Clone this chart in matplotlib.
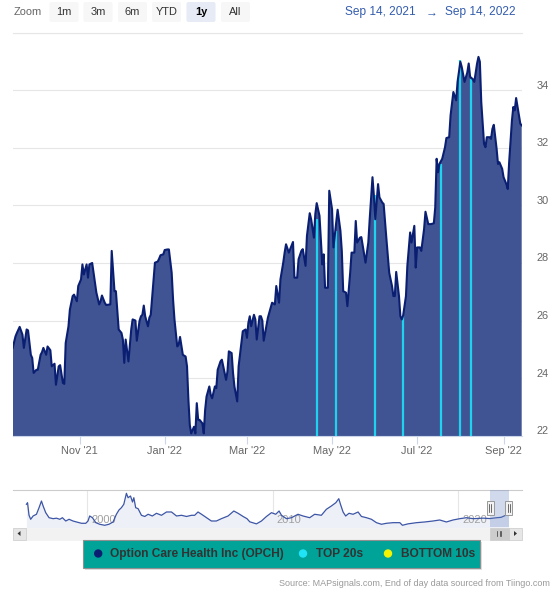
import matplotlib
matplotlib.use("Agg")
import matplotlib.pyplot as plt
import matplotlib.dates as mdates
import matplotlib.transforms as mtransforms
from matplotlib.patches import Rectangle, FancyBboxPatch, Circle, Polygon
import pandas as pd

plt.rcParams['font.family'] = ['Liberation Sans', 'DejaVu Sans']

# OPCH close, Sep 14 2021 -> Sep 14 2022
dates = [
    '2021-09-14', '2021-09-16', '2021-09-17', '2021-09-19', '2021-09-21', '2021-09-22',
    '2021-09-24', '2021-09-25', '2021-09-27', '2021-09-28', '2021-09-29',
    '2021-10-01', '2021-10-02', '2021-10-04', '2021-10-05', '2021-10-06', '2021-10-08',
    '2021-10-09', '2021-10-11', '2021-10-12', '2021-10-14', '2021-10-15', '2021-10-17',
    '2021-10-18', '2021-10-20', '2021-10-21', '2021-10-22', '2021-10-24', '2021-10-25',
    '2021-10-27', '2021-10-28', '2021-10-30', '2021-10-31',
    '2021-11-02', '2021-11-03', '2021-11-04', '2021-11-06', '2021-11-07', '2021-11-08',
    '2021-11-10', '2021-11-12', '2021-11-13', '2021-11-15', '2021-11-16', '2021-11-17',
    '2021-11-19', '2021-11-20', '2021-11-23', '2021-11-24', '2021-11-26', '2021-11-27',
    '2021-11-29',
    '2021-12-01', '2021-12-02', '2021-12-03', '2021-12-04', '2021-12-06', '2021-12-08',
    '2021-12-09', '2021-12-11', '2021-12-12', '2021-12-14', '2021-12-15', '2021-12-16',
    '2021-12-17', '2021-12-18', '2021-12-20', '2021-12-21', '2021-12-22', '2021-12-24',
    '2021-12-25', '2021-12-27', '2021-12-28', '2021-12-29', '2021-12-31',
    '2022-01-01', '2022-01-03', '2022-01-04', '2022-01-06', '2022-01-07', '2022-01-08',
    '2022-01-10', '2022-01-11', '2022-01-12', '2022-01-14', '2022-01-16', '2022-01-17',
    '2022-01-18', '2022-01-19', '2022-01-20', '2022-01-22', '2022-01-23', '2022-01-24',
    '2022-01-25', '2022-01-26', '2022-01-28', '2022-01-29', '2022-01-30', '2022-01-31',
    '2022-02-02', '2022-02-03', '2022-02-04', '2022-02-06', '2022-02-07', '2022-02-08',
    '2022-02-10', '2022-02-11', '2022-02-12', '2022-02-14', '2022-02-15', '2022-02-16',
    '2022-02-18', '2022-02-19', '2022-02-20', '2022-02-22', '2022-02-23', '2022-02-25',
    '2022-02-26', '2022-02-28',
    '2022-03-01', '2022-03-02', '2022-03-03', '2022-03-04', '2022-03-06', '2022-03-07',
    '2022-03-08', '2022-03-10', '2022-03-11', '2022-03-12', '2022-03-13', '2022-03-16',
    '2022-03-18', '2022-03-19', '2022-03-21', '2022-03-22', '2022-03-24', '2022-03-25',
    '2022-03-27', '2022-03-28', '2022-03-29', '2022-03-31',
    '2022-04-02', '2022-04-03', '2022-04-04', '2022-04-06', '2022-04-07', '2022-04-09',
    '2022-04-10', '2022-04-12', '2022-04-13', '2022-04-15', '2022-04-16', '2022-04-18',
    '2022-04-19', '2022-04-20', '2022-04-22', '2022-04-24', '2022-04-25', '2022-04-26',
    '2022-04-28', '2022-04-29',
    '2022-05-01', '2022-05-02', '2022-05-04', '2022-05-05', '2022-05-07', '2022-05-08',
    '2022-05-09', '2022-05-11', '2022-05-12', '2022-05-14', '2022-05-15', '2022-05-17',
    '2022-05-18', '2022-05-19', '2022-05-21', '2022-05-22', '2022-05-24', '2022-05-25',
    '2022-05-27', '2022-05-28', '2022-05-30', '2022-05-31',
    '2022-06-01', '2022-06-03', '2022-06-04', '2022-06-06', '2022-06-07', '2022-06-09',
    '2022-06-11', '2022-06-13', '2022-06-14', '2022-06-15', '2022-06-16', '2022-06-18',
    '2022-06-19', '2022-06-20', '2022-06-21', '2022-06-23', '2022-06-24', '2022-06-26',
    '2022-06-27', '2022-06-29', '2022-06-30',
    '2022-07-01', '2022-07-03', '2022-07-04', '2022-07-06', '2022-07-07', '2022-07-09',
    '2022-07-11', '2022-07-13', '2022-07-14', '2022-07-15', '2022-07-16', '2022-07-17',
    '2022-07-19', '2022-07-21', '2022-07-22', '2022-07-24', '2022-07-25', '2022-07-27',
    '2022-07-29', '2022-07-30',
    '2022-08-01', '2022-08-02', '2022-08-04', '2022-08-06', '2022-08-07', '2022-08-08',
    '2022-08-10', '2022-08-11', '2022-08-13', '2022-08-14', '2022-08-15', '2022-08-16',
    '2022-08-18', '2022-08-19', '2022-08-20', '2022-08-22', '2022-08-23', '2022-08-24',
    '2022-08-25', '2022-08-27', '2022-08-28', '2022-08-29', '2022-08-31',
    '2022-09-01', '2022-09-03', '2022-09-04', '2022-09-05', '2022-09-06', '2022-09-07',
    '2022-09-08', '2022-09-09', '2022-09-10', '2022-09-12', '2022-09-13', '2022-09-14',
]
prices = [
    25.05, 25.45, 25.57, 25.78, 25.51, 25.05,
    25.69, 25.66, 24.81, 24.70, 24.18,
    24.29, 24.29, 24.81, 24.90, 25.05, 24.81,
    25.10, 24.97, 24.41, 24.50, 23.77, 24.41,
    24.45, 23.83, 23.80, 25.22, 25.80, 26.38,
    26.85, 26.90, 26.67, 27.20,
    27.43, 27.95, 27.60, 27.95, 27.49, 27.95,
    28.00, 27.32, 26.97, 26.56, 26.67, 26.87,
    26.62, 26.54, 26.56, 28.42, 27.02, 27.02,
    25.69,
    25.57, 25.34, 24.53, 25.34, 24.58, 25.69,
    26.04, 26.00, 25.30, 26.00, 26.15, 26.20,
    26.52, 26.15, 25.80, 26.10, 26.20, 27.43,
    28.01, 28.05, 28.15, 28.27, 28.30,
    28.45, 28.47, 28.47, 27.66, 26.73, 26.04,
    25.10, 25.16, 25.43, 24.81, 24.75, 24.41,
    23.25, 22.37, 22.08, 22.31, 22.08, 23.13,
    22.55, 22.55, 22.43, 22.08, 22.90, 23.36,
    23.71, 23.42, 23.30, 23.71, 23.65, 24.29,
    24.58, 24.64, 24.41, 23.94, 24.23, 24.93,
    24.87, 24.18, 23.71, 23.19, 24.41, 25.22,
    25.63, 25.69,
    25.40, 25.92, 26.15, 25.80, 26.20, 26.04,
    25.34, 26.15, 26.15, 26.00, 25.30, 26.10,
    26.44, 26.62, 26.56, 27.20, 26.62, 27.43,
    28.01, 28.36, 28.65, 28.36,
    28.60, 28.73, 27.49, 27.49, 28.13, 28.42,
    28.48, 27.90, 28.94, 29.73, 29.52, 28.88,
    29.70, 30.08, 29.64, 27.95, 28.30, 27.14,
    27.14, 30.51,
    29.87, 28.54, 29.41, 29.85, 29.12, 28.42,
    27.02, 26.97, 26.50, 27.66, 28.36, 28.36,
    29.46, 28.71, 28.88, 28.90, 28.30, 28.01,
    28.71, 29.52, 30.98, 30.34,
    29.52, 30.74, 30.28, 30.10, 30.05, 28.83,
    27.66, 27.20, 26.85, 26.85, 27.69, 26.85,
    26.15, 26.04, 26.18, 26.85, 27.90, 29.06,
    28.71, 29.29, 27.84,
    28.54, 28.54, 28.42, 29.18, 29.78, 29.35,
    29.35, 29.38, 29.93, 31.62, 31.15, 31.44,
    31.62, 32.02, 32.34, 32.37, 33.13, 33.94,
    33.65, 34.29,
    34.99, 34.81, 34.29, 34.62, 34.93, 34.47,
    34.38, 34.29, 34.93, 35.16, 34.99, 33.59,
    32.14, 32.02, 32.37, 32.37, 32.31, 32.66,
    32.80, 31.97, 31.44, 31.50, 31.27,
    30.98, 30.74, 30.57, 31.50, 32.20, 32.95,
    33.42, 33.30, 33.73, 33.13, 32.84, 32.78,
]

# TOP 20s signal days
top_dates = ['2022-04-20', '2022-05-04', '2022-06-01', '2022-06-21',
             '2022-07-18', '2022-08-01', '2022-08-09']
top_vals = [29.52, 29.12, 30.36, 26.15, 31.44, 35.05, 34.40]

# navigator: full history (decimal year, price)
nav_years = [1996.71, 1996.77, 1996.85, 1996.94, 1997.07, 1997.25, 1997.39, 1997.52,
             1997.61, 1997.75, 1997.93, 1998.15, 1998.33, 1998.51, 1998.65, 1998.83,
             1999.01, 1999.22, 1999.41, 1999.68, 1999.91, 2000.03, 2000.12, 2000.27,
             2000.45, 2000.66, 2000.93, 2001.16, 2001.38, 2001.56, 2001.70, 2001.83,
             2001.96, 2002.10, 2002.19, 2002.32, 2002.43, 2002.50, 2002.60, 2002.73,
             2002.91, 2003.09, 2003.27, 2003.50, 2003.72, 2003.99, 2004.26, 2004.53,
             2004.80, 2005.07, 2005.34, 2005.61, 2005.78, 2005.96, 2006.15, 2006.42,
             2006.68, 2006.95, 2007.22, 2007.58, 2007.89, 2008.12, 2008.39, 2008.60,
             2008.75, 2009.11, 2009.38, 2009.65, 2009.92, 2010.15, 2010.33, 2010.46,
             2010.73, 2011.00, 2011.35, 2011.62, 2011.98, 2012.25, 2012.61, 2012.88,
             2013.15, 2013.39, 2013.55, 2013.64, 2013.78, 2013.92, 2014.10, 2014.32,
             2014.59, 2014.77, 2015.04, 2015.31, 2015.58, 2015.85, 2016.12, 2016.47,
             2016.84, 2016.98, 2017.28, 2017.74, 2018.18, 2018.63, 2018.99, 2019.35,
             2019.71, 2020.07, 2020.43, 2020.79, 2021.33, 2021.70, 2022.05, 2022.30,
             2022.60, 2022.70]
nav_vals = [60, 63.9, 33, 23.2, 31.3, 35.5, 51.6, 68,
            55.8, 39.4, 27.1, 24.7, 25.9, 23.2, 27.1, 19,
            23.2, 19, 16.6, 13.4, 13.4, 19, 31.3, 27.1,
            14.9, 11, 8.5, 11, 16.6, 35.5, 46, 51.6,
            60, 86.9, 76.1, 80.3, 65.6, 76.1, 51.6, 49.2,
            33, 30.1, 35.5, 31.3, 37.9, 33, 41.1, 41.1,
            31.3, 33, 30.1, 33, 33, 41.1, 35.5, 27.1,
            19, 19, 24.7, 31.3, 43.5, 37.9, 30.1, 24.7,
            17, 12, 19, 30.1, 39.4, 35.5, 43.5, 33,
            24.7, 27.1, 35.5, 31.3, 27.1, 35.5, 33, 47.7,
            55.8, 63.9, 73.7, 60, 41.1, 31.3, 37.9, 35.5,
            41.1, 30.1, 27.1, 23.2, 14.9, 11, 13.4, 14.9,
            14.9, 8.5, 12, 14.9, 16.6, 19, 21.5, 16.6,
            21.5, 24.7, 27.1, 24.7, 26, 25, 27, 28,
            34, 32.8]
nav_grid_years = [2000, 2010, 2020]

ranges = ["1m", "3m", "6m", "YTD", "1y", "All"]
legend_names = ["Option Care Health Inc (OPCH)", "TOP 20s", "BOTTOM 10s"]
legend_colors = ["#0b1f72", "#20e4f6", "#f4f400"]

W, H = 554, 592
fig = plt.figure(figsize=(W / 100, H / 100), dpi=100)
inch = fig.dpi_scale_trans


def box(x0, y0, x1, y1):
    return [x0 / W, 1 - y1 / H, (x1 - x0) / W, (y1 - y0) / H]


def P(x, y):
    return (x / 100, (H - y) / 100)


def rect_px(x0, y0, x1, y1, **kw):
    r = Rectangle(P(x0, y1), (x1 - x0) / 100, (y1 - y0) / 100, transform=inch, **kw)
    fig.add_artist(r)
    return r


# ---- main chart ----
ax = fig.add_axes(box(12.7, 32.7, 521.7, 435.7))
d = pd.to_datetime(dates)
ax.fill_between(d, prices, 0, color='#405494', lw=0, zorder=2)
ax.vlines(pd.to_datetime(top_dates), 0, top_vals, color='#1dd3ee', lw=1.6, zorder=3)
ax.plot(d, prices, color='#0b1f72', lw=1.5, zorder=4, solid_joinstyle='round')
ax.set_xlim(pd.Timestamp('2021-09-14'), pd.Timestamp('2022-09-14'))
ax.set_ylim(22, 36)

for s in ['top', 'left', 'right']:
    ax.spines[s].set_visible(False)
ax.spines['bottom'].set_color('#ccd6eb')
ax.spines['bottom'].set_linewidth(0.8)
ax.spines['bottom'].set_zorder(5)

yt = list(range(22, 37, 2))
ax.set_yticks(yt)
ax.set_yticklabels([str(v) if v < 36 else '' for v in yt])
ax.yaxis.grid(True, color='#e6e6e6', lw=0.8)
ax.set_axisbelow(True)
ax.tick_params(axis='y', length=0, pad=11, labelsize=7.9, labelcolor='#666666',
               left=False, labelleft=False, right=False, labelright=True)
off = mtransforms.ScaledTranslation(0, 5.5 / 100, inch)
for lab in ax.get_yticklabels():
    lab.set_transform(lab.get_transform() + off)

ax.xaxis.set_major_locator(mdates.MonthLocator(bymonth=[1, 3, 5, 7, 9, 11]))
ax.xaxis.set_major_formatter(mdates.DateFormatter("%b '%y"))
ax.tick_params(axis='x', length=5.8, width=0.8, color='#ccd6eb', labelsize=7.9,
               labelcolor='#666666', pad=1.5)

# ---- navigator ----
nav = fig.add_axes(box(12.7, 490, 521.7, 527))
nav.fill_between(nav_years, nav_vals, 0, color='#eef0f8', lw=0, zorder=2)
nav.plot(nav_years, nav_vals, color='#3c55a5', lw=0.9, zorder=3)
nav.set_xlim(1995.97, 2023.41)
nav.set_ylim(4.3, 95)
nav.set_xticks(nav_grid_years)
nav.xaxis.grid(True, color='#e6e6e6', lw=0.8)
nav.set_axisbelow(True)
nav.tick_params(length=0, labelbottom=False, labelleft=False)
nav.set_yticks([])
for s in ['left', 'right', 'bottom']:
    nav.spines[s].set_visible(False)
nav.spines['top'].set_color('#cccccc')
nav.spines['top'].set_linewidth(0.8)
for yr in nav_grid_years:
    nav.text(yr + 0.2, 0.2, str(yr), transform=nav.get_xaxis_transform(),
             fontsize=8, color='#a0a0a0', va='center', ha='left', zorder=2.5)
nav.axvspan(2021.70, 2022.70, color=(102 / 255, 133 / 255, 194 / 255), alpha=0.3, lw=0, zorder=4)

# navigator handles
for hx in [490.2, 508.8]:
    rect_px(hx - 3.5, 501, hx + 3.5, 515, fc='#f2f2f2', ec='#999999', lw=0.7)
    for gx in [hx - 1, hx + 1]:
        fig.add_artist(plt.Line2D([P(gx, 0)[0]] * 2, [P(0, 504)[1], P(0, 512)[1]],
                                  transform=inch, color='#333333', lw=0.5))

# scrollbar
rect_px(12.7, 527.5, 521.7, 539.5, fc='#f2f2f2', ec='#f2f2f2', lw=0.5)
rect_px(12.7, 527.5, 25.7, 539.5, fc='#e6e6e6', ec='#cccccc', lw=0.5)
rect_px(508.7, 527.5, 521.7, 539.5, fc='#e6e6e6', ec='#cccccc', lw=0.5)
rect_px(490.2, 527.5, 508.7, 539.5, fc='#cccccc', ec='#cccccc', lw=0.5)
fig.add_artist(Polygon([P(17.5, 533.5), P(20.5, 531), P(20.5, 536)], closed=True,
                       transform=inch, fc='#333333', ec='none'))
fig.add_artist(Polygon([P(517, 533.5), P(514, 531), P(514, 536)], closed=True,
                       transform=inch, fc='#333333', ec='none'))
for gx in [497.5, 499.5, 501.5]:
    fig.add_artist(plt.Line2D([P(gx, 0)[0]] * 2, [P(0, 531)[1], P(0, 536)[1]],
                              transform=inch, color='#333333', lw=0.5))

# ---- range selector ----
fig.text(*P(13.4, 12), "Zoom", transform=inch, fontsize=7.9, color='#666666', va='center')
bx = [49.5, 83.5, 118, 152, 186.5, 221]
for x0, lbl in zip(bx, ranges):
    sel = lbl == "1y"
    fig.add_artist(FancyBboxPatch(P(x0, 22), 0.29, 0.20,
                                  boxstyle="round,pad=0,rounding_size=0.02",
                                  transform=inch, fc='#e6ebf5' if sel else '#f7f7f7', ec='none'))
    fig.text(*P(x0 + 14.5, 12.3), lbl, transform=inch, fontsize=7.9, ha='center', va='center',
             color='#000000' if sel else '#333333', fontweight='bold' if sel else 'normal')

fig.text(*P(380.5, 12), "Sep 14, 2021", transform=inch, fontsize=8.6, color='#335cad',
         ha='center', va='center')
fig.text(*P(432, 12), "\u2192", transform=inch, fontsize=8.6, color='#335cad',
         ha='center', va='center')
fig.text(*P(480.5, 12), "Sep 14, 2022", transform=inch, fontsize=8.6, color='#335cad',
         ha='center', va='center')
fig.add_artist(plt.Line2D([P(12.7, 0)[0], P(521.7, 0)[0]], [P(0, 32.7)[1]] * 2,
                          transform=inch, color='#e6e6e6', lw=0.8))

# ---- legend ----
rect_px(84.5, 541.5, 481.5, 569.5, fc='#000000', ec='none', alpha=0.12)
rect_px(83, 540, 480, 568, fc='#00a398', ec='#909090', lw=0.8)
dot_x = [98.2, 303, 388]
txt_x = [110, 316, 401]
for dx, tx, name, col in zip(dot_x, txt_x, legend_names, legend_colors):
    fig.add_artist(Circle(P(dx, 553.5), 0.042, transform=inch, fc=col, ec='none'))
    fig.text(*P(tx, 554), name, transform=inch, fontsize=8.6, fontweight='bold',
             color='#333333', va='center', ha='left')

fig.text(*P(549.5, 583), "Source: MAPsignals.com, End of day data sourced from Tiingo.com",
         transform=inch, fontsize=6.5, color='#999999', ha='right', va='center')

fig.savefig('out.png', dpi=100)
